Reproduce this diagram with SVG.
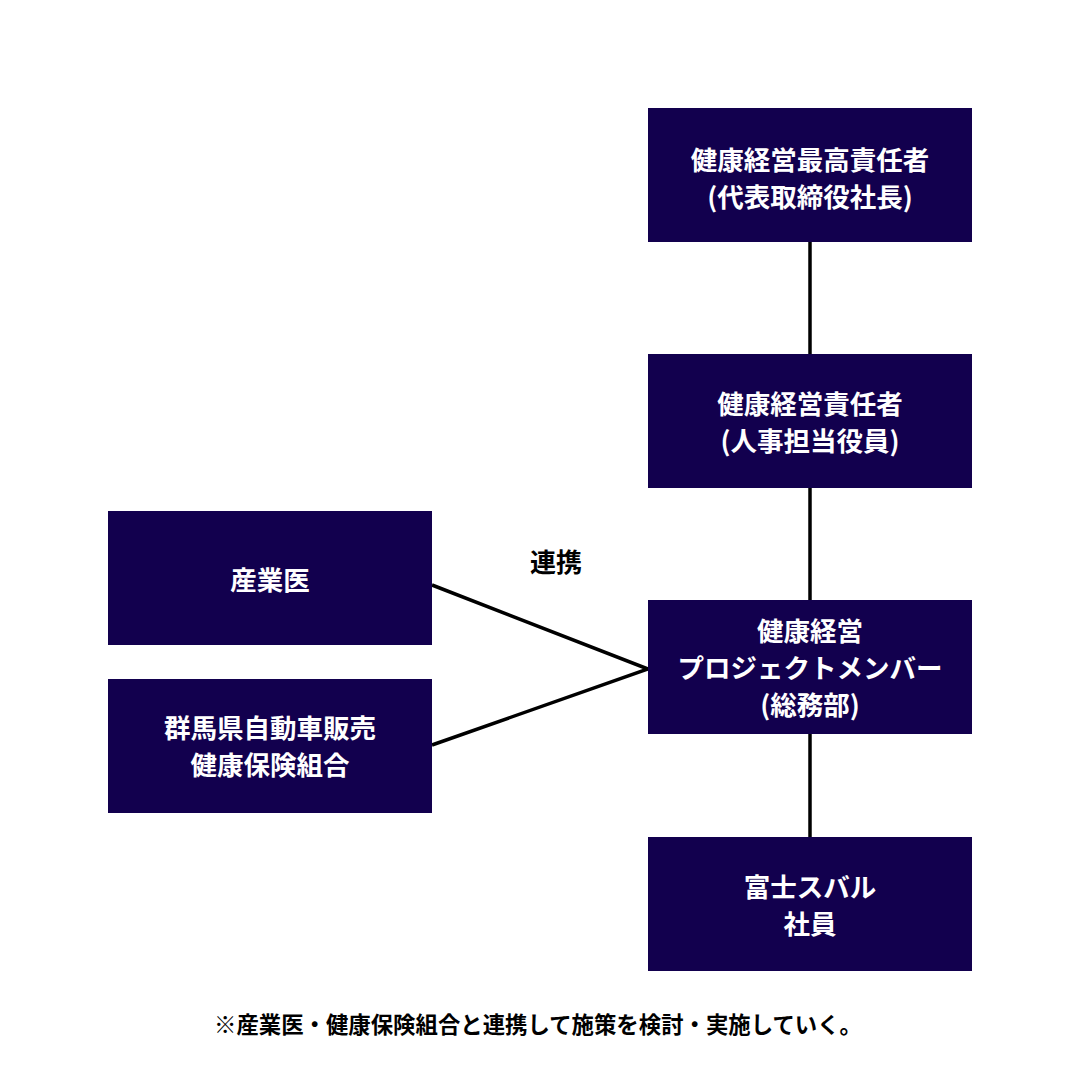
<svg xmlns="http://www.w3.org/2000/svg" width="1080" height="1080" viewBox="0 0 1080 1080">
<style>
.box{fill:#12004e}
.t{font-family:"Noto Sans CJK JP","Noto Sans",sans-serif;font-weight:bold;font-size:26.5px;fill:#ffffff;text-anchor:middle}
.k{font-family:"Noto Sans CJK JP","Noto Sans",sans-serif;font-weight:bold;fill:#000000;text-anchor:middle}
.c{stroke:#000000;stroke-width:3.5;fill:none}
</style>
<rect width="1080" height="1080" fill="#ffffff"/>
<g id="connectors">
<line class="c" x1="810" y1="242" x2="810" y2="354"/>
<line class="c" x1="810" y1="488" x2="810" y2="600"/>
<line class="c" x1="810" y1="734" x2="810" y2="837"/>
<polyline class="c" points="432,585 648,669 432,745"/>
</g>
<g id="ceo">
<rect class="box" x="648" y="108" width="324" height="134"/>
<text class="t" x="810" y="170">健康経営最高責任者</text>
<text class="t" x="810" y="207">(代表取締役社長)</text>
</g>
<g id="manager">
<rect class="box" x="648" y="354" width="324" height="134"/>
<text class="t" x="810" y="414">健康経営責任者</text>
<text class="t" x="810" y="451">(人事担当役員)</text>
</g>
<g id="project">
<rect class="box" x="648" y="600" width="324" height="134"/>
<text class="t" x="810" y="641">健康経営</text>
<text class="t" x="810" y="678">プロジェクトメンバー</text>
<text class="t" x="810" y="715">(総務部)</text>
</g>
<g id="employees">
<rect class="box" x="648" y="837" width="324" height="134"/>
<text class="t" x="810" y="897">富士スバル</text>
<text class="t" x="810" y="934">社員</text>
</g>
<g id="doctor">
<rect class="box" x="108" y="511" width="324" height="134"/>
<text class="t" x="270" y="590">産業医</text>
</g>
<g id="insurance">
<rect class="box" x="108" y="679" width="324" height="134"/>
<text class="t" x="270" y="738">群馬県自動車販売</text>
<text class="t" x="270" y="775">健康保険組合</text>
</g>
<text class="k" x="556" y="572" font-size="26">連携</text>
<text class="k" x="538" y="1033" font-size="22.4">※産業医・健康保険組合と連携して施策を検討・実施していく。</text>
</svg>
